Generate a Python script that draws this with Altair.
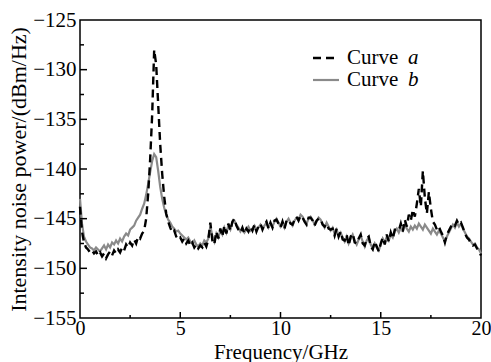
import altair as alt
import pandas as pd

# Frequency grid (GHz), 0.1 GHz steps
freq = [round(i * 0.1, 1) for i in range(201)]

# Curve a (black dashed), dBm/Hz
curve_a = [
    -143.8, -146.3, -147.4, -147.9, -148.1, -148.4, -148.2, -148.5, -148.3, -148.7,
    -148.4, -148.8, -148.5, -149.0, -148.6, -148.3, -148.7, -148.2, -148.5, -148.1,
    -148.4, -147.9, -148.2, -147.6, -147.9, -147.4, -147.7, -147.1, -147.5, -146.8,
    -147.0, -146.5, -146.2, -145.0, -142.5, -139.0, -134.5, -128.0, -129.5, -133.5,
    -137.5, -140.5, -142.8, -144.5, -145.3, -145.9, -146.4, -146.2, -146.8, -147.1,
    -146.9, -147.3, -147.0, -147.5, -147.2, -147.7, -147.4, -147.9, -147.6, -148.0,
    -147.7, -147.9, -147.4, -147.8, -147.1, -145.4, -147.2, -147.6, -146.3, -147.0,
    -146.0, -146.8, -145.7, -146.5, -145.5, -146.2, -145.3, -145.0, -145.7, -146.1,
    -146.4, -145.9, -146.5, -146.0, -146.3, -145.8, -146.2, -145.6, -146.3, -145.8,
    -145.5, -146.1, -145.6, -145.3, -146.0, -145.4, -145.9, -145.2, -145.1, -145.5,
    -145.9, -145.3, -146.0, -145.2, -145.1, -145.5, -145.6, -145.1, -144.8, -145.2,
    -144.7, -144.9, -145.3, -145.6, -144.9, -144.9, -145.2, -145.7, -145.2, -145.0,
    -145.0, -145.6, -145.8, -145.5, -146.0, -146.1, -146.0, -146.7, -146.0, -146.8,
    -146.3, -147.1, -147.2, -146.6, -147.7, -146.8, -146.5, -147.4, -147.5, -147.0,
    -146.6, -147.5, -147.7, -147.0, -146.8, -147.8, -148.1, -147.3, -147.8, -148.3,
    -147.5, -146.9, -147.6, -146.6, -147.3, -146.4, -147.0, -146.1, -146.1, -146.2,
    -145.5, -146.3, -145.1, -145.8, -144.6, -145.2, -144.1, -144.8, -143.5, -142.0,
    -143.8, -140.2, -142.9, -144.5, -142.3, -144.0, -145.3, -145.6, -146.1, -145.8,
    -146.3, -146.7, -147.4, -146.6, -146.2, -145.8, -145.5, -145.7, -145.2, -145.6,
    -145.4, -145.9, -146.5, -146.9, -147.1, -147.5, -147.7, -147.6, -148.0, -148.3,
    -148.7,
]

# Curve b (grey solid), dBm/Hz
curve_b = [
    -143.0, -145.5, -146.8, -147.3, -147.6, -147.9, -148.0, -148.2, -147.9, -148.1,
    -148.3, -148.0, -147.7, -148.1, -147.6, -147.9, -147.4, -147.6, -147.2, -147.5,
    -147.0, -147.3, -146.8, -146.5, -146.7, -146.1, -145.9, -145.7, -145.2, -144.9,
    -144.6, -144.0, -143.5, -142.6, -141.5, -140.3, -139.2, -138.5, -138.8, -140.2,
    -141.8, -143.0, -143.9, -144.6, -145.1, -145.4, -145.8, -146.0, -146.3, -146.2,
    -146.5, -146.7, -146.9, -147.1, -146.9, -147.3, -147.5, -147.2, -147.6, -147.8,
    -147.5, -147.7, -147.2, -147.4, -147.0, -145.8, -146.7, -147.3, -146.5, -146.9,
    -146.2, -146.6, -145.9, -146.4, -145.7, -146.1, -145.4, -145.2, -145.6, -145.9,
    -146.3, -146.0, -146.4, -146.1, -145.8, -146.2, -146.0, -145.7, -146.1, -145.9,
    -145.6, -146.0, -145.7, -145.4, -145.9, -145.5, -145.8, -145.3, -145.0, -145.4,
    -145.8, -145.4, -145.9, -145.3, -145.0, -145.4, -145.7, -145.2, -144.9, -145.1,
    -144.6, -144.8, -145.2, -145.5, -145.0, -144.8, -145.1, -145.6, -145.3, -144.9,
    -145.1, -145.5, -145.9, -145.4, -145.8, -146.2, -145.9, -146.5, -146.1, -146.7,
    -146.4, -146.9, -147.3, -146.8, -147.5, -147.0, -146.6, -147.2, -147.6, -147.1,
    -146.7, -147.3, -147.8, -147.2, -146.9, -147.6, -148.0, -147.5, -147.9, -148.2,
    -147.6, -147.0, -147.4, -146.8, -147.2, -146.6, -146.9, -146.3, -146.0, -146.4,
    -145.9, -146.2, -145.6, -146.0, -146.3, -145.8, -146.1, -145.7, -146.0, -145.5,
    -145.8, -146.1, -145.6, -145.9, -146.2, -146.5, -146.0, -146.3, -146.6, -146.2,
    -146.5, -146.9, -147.3, -146.8, -146.4, -146.0, -145.6, -145.9, -145.4, -145.8,
    -145.5, -146.0, -146.4, -146.8, -147.0, -147.3, -147.6, -147.5, -147.9, -148.1,
    -148.5,
]

x_major = [5, 10, 15]
x_minor = [2.5, 7.5, 12.5, 17.5]
y_major = [-150, -145, -140, -135, -130]
y_minor = [-152.5, -147.5, -142.5, -137.5, -132.5, -127.5]
x_labels = [0, 5, 10, 15, 20]
y_labels = [-155, -150, -145, -140, -135, -130, -125]

legend_words = ["Curve", "Curve"]
legend_names = ["a", "b"]

FONT = "Liberation Serif"
W, H = 401, 298

df_a = pd.DataFrame({"f": freq, "v": curve_a})
df_b = pd.DataFrame({"f": freq, "v": curve_b})

xenc = alt.X(
    "f:Q",
    scale=alt.Scale(domain=[0, 20], nice=False, zero=False),
    axis=alt.Axis(
        values=x_labels, title="Frequency/GHz", ticks=False, domain=False, grid=False,
        labelFont=FONT, labelFontSize=20, labelColor="black", labelFlush=False,
        labelPadding=0, titleFont=FONT, titleFontSize=21, titleFontWeight="normal",
        titleColor="black", titlePadding=3, format="d",
    ),
)
yenc = alt.Y(
    "v:Q",
    scale=alt.Scale(domain=[-155, -125], nice=False, zero=False),
    axis=alt.Axis(
        values=y_labels, title="Intensity noise power/(dBm/Hz)", ticks=False, domain=False,
        grid=False, labelFont=FONT, labelFontSize=21, labelColor="black", labelFlush=False,
        labelPadding=4, titleFont=FONT, titleFontSize=22, titleFontWeight="normal",
        titleColor="black", titlePadding=2, format="d",
    ),
)

line_b = alt.Chart(df_b).mark_line(color="#8a8a8a", strokeWidth=2.2).encode(x=xenc, y=yenc)
line_a = alt.Chart(df_a).mark_line(color="black", strokeWidth=2.4, strokeDash=[8, 5]).encode(
    x="f:Q", y="v:Q"
)

xt_major = alt.Chart(pd.DataFrame({"f": x_major})).mark_rule(color="black", strokeWidth=1.5).encode(
    x="f:Q", y=alt.value(H), y2=alt.value(H - 6)
)
xt_minor = alt.Chart(pd.DataFrame({"f": x_minor})).mark_rule(color="black", strokeWidth=1.5).encode(
    x="f:Q", y=alt.value(H), y2=alt.value(H - 3)
)
yt_major = alt.Chart(pd.DataFrame({"v": y_major})).mark_rule(color="black", strokeWidth=1.5).encode(
    y="v:Q", x=alt.value(0), x2=alt.value(7)
)
yt_minor = alt.Chart(pd.DataFrame({"v": y_minor})).mark_rule(color="black", strokeWidth=1.5).encode(
    y="v:Q", x=alt.value(0), x2=alt.value(4)
)

# Manual legend
leg_a_line = alt.Chart(pd.DataFrame({"k": [0]})).mark_rule(
    color="black", strokeWidth=2.4, strokeDash=[8, 5]
).encode(x=alt.value(233), x2=alt.value(259), y=alt.value(38))
leg_b_line = alt.Chart(pd.DataFrame({"k": [0]})).mark_rule(
    color="#8a8a8a", strokeWidth=2.2
).encode(x=alt.value(233), x2=alt.value(259), y=alt.value(60))
leg_a_word = alt.Chart(pd.DataFrame({"t": [legend_words[0]]})).mark_text(
    font=FONT, fontSize=21, align="left", baseline="middle", color="black"
).encode(text="t:N", x=alt.value(267), y=alt.value(38))
leg_b_word = alt.Chart(pd.DataFrame({"t": [legend_words[1]]})).mark_text(
    font=FONT, fontSize=21, align="left", baseline="middle", color="black"
).encode(text="t:N", x=alt.value(267), y=alt.value(60))
leg_a_name = alt.Chart(pd.DataFrame({"t": [legend_names[0]]})).mark_text(
    font=FONT, fontSize=21, fontStyle="italic", align="left", baseline="middle", color="black"
).encode(text="t:N", x=alt.value(328), y=alt.value(38))
leg_b_name = alt.Chart(pd.DataFrame({"t": [legend_names[1]]})).mark_text(
    font=FONT, fontSize=21, fontStyle="italic", align="left", baseline="middle", color="black"
).encode(text="t:N", x=alt.value(328), y=alt.value(60))

chart = alt.layer(
    line_b, line_a, xt_major, xt_minor, yt_major, yt_minor,
    leg_a_line, leg_b_line, leg_a_word, leg_b_word, leg_a_name, leg_b_name,
).properties(
    width=W, height=H,
    autosize=alt.AutoSizeParams(type="none"),
    padding={"left": 80, "top": 20, "right": 10, "bottom": 44},
    background="white",
).configure_view(stroke="black", strokeWidth=1.5)

chart.save("out.html", embed_options={"renderer": "svg", "actions": False})
